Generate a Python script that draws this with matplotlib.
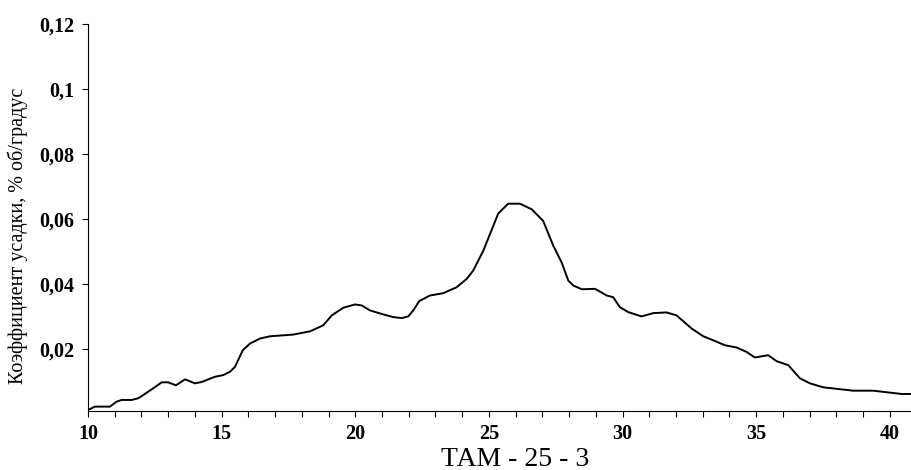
import numpy as np
import matplotlib
matplotlib.use("Agg")
import matplotlib.pyplot as plt

# temperature, deg C
temp = [10.01, 10.26, 10.82, 11.07, 11.26, 11.63, 11.88, 12.07, 12.44, 12.76,
        13.00, 13.29, 13.63, 14.00, 14.25, 14.75, 15.06, 15.31, 15.50, 15.79,
        16.06, 16.43, 16.81, 17.68, 18.31, 18.80, 19.12, 19.55, 19.99, 20.24,
        20.55, 21.05, 21.42, 21.74, 21.98, 22.17, 22.39, 22.79, 23.29, 23.79,
        24.17, 24.41, 24.79, 25.35, 25.72, 26.16, 26.60, 27.03, 27.41, 27.72,
        27.97, 28.16, 28.47, 28.97, 29.41, 29.65, 29.90, 30.21, 30.71, 31.15,
        31.65, 32.02, 32.59, 33.02, 33.39, 33.83, 34.27, 34.64, 34.95, 35.45,
        35.76, 36.20, 36.64, 37.01, 37.51, 38.63, 39.38, 40.44, 40.81]
# shrinkage coefficient, % vol / degree
shrink = [0.00135, 0.00235, 0.00235, 0.00388, 0.00440, 0.00440, 0.00492, 0.00593, 0.00798, 0.00982,
          0.00982, 0.00890, 0.01073, 0.00951, 0.00991, 0.01153, 0.01205, 0.01306, 0.01459, 0.01969,
          0.02174, 0.02327, 0.02398, 0.02450, 0.02550, 0.02734, 0.03040, 0.03275, 0.03376, 0.03346,
          0.03193, 0.03070, 0.02988, 0.02957, 0.03009, 0.03193, 0.03477, 0.03651, 0.03722, 0.03905,
          0.04162, 0.04416, 0.05028, 0.06174, 0.06474, 0.06474, 0.06303, 0.05945, 0.05180, 0.04670,
          0.04110, 0.03957, 0.03844, 0.03856, 0.03651, 0.03599, 0.03294, 0.03141, 0.03009, 0.03110,
          0.03131, 0.03040, 0.02633, 0.02398, 0.02275, 0.02122, 0.02052, 0.01917, 0.01746, 0.01817,
          0.01633, 0.01511, 0.01104, 0.00951, 0.00829, 0.00725, 0.00725, 0.00624, 0.00624]

yticks = [0.02, 0.04, 0.06, 0.08, 0.1, 0.12]
ylabels = ['0,02', '0,04', '0,06', '0,08', '0,1', '0,12']

plt.rcParams['font.family'] = ['Liberation Serif', 'DejaVu Serif']

fig = plt.figure(figsize=(9.12, 4.70), dpi=100)
ax = fig.add_axes([0.0965, 0.1255, 0.9035, 0.8235])

ax.plot(temp, shrink, color='black', lw=1.4, solid_joinstyle='round')

ax.set_xlim(10, 40.83)
ax.set_ylim(0.001, 0.12)

ax.set_xticks(range(10, 41))
ax.set_xticklabels([str(t) if t % 5 == 0 else '' for t in range(10, 41)])
ax.set_yticks(yticks)
ax.set_yticklabels(ylabels)
ax.tick_params(direction='out', length=4, width=0.8, labelsize=14.5)
ax.tick_params(axis='x', pad=5)
ax.tick_params(axis='y', pad=6)
for lab in ax.get_xticklabels() + ax.get_yticklabels():
    lab.set_fontweight('bold')

ax.spines['top'].set_visible(False)
ax.spines['right'].set_visible(False)

ax.set_ylabel('Коэффициент усадки, % об/градус', fontsize=14.5)
ax.yaxis.set_label_coords(-0.073, 0.453)
ax.set_xlabel('ТАМ - 25 - 3', fontsize=20)
ax.xaxis.set_label_coords(0.518, -0.124)
ax.xaxis.label.set_va('center')

fig.savefig('out.png', dpi=100)
